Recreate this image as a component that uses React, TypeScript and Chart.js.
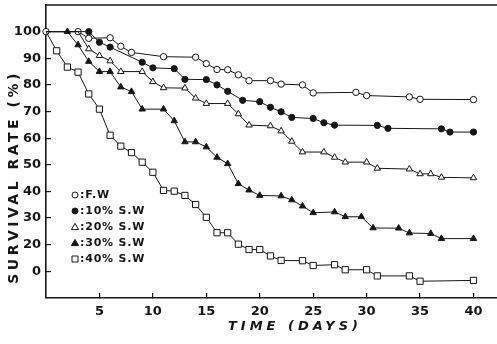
import React, { useEffect, useRef } from 'react';
import { Chart, registerables } from 'chart.js';

Chart.register(...registerables);

// ---- data ----
const X_TICKS = [5, 10, 15, 20, 25, 30, 35, 40];
const Y_TICKS = [10, 20, 30, 40, 50, 60, 70, 80, 90, 100];
const X_TITLE = 'TIME (DAYS)';
const Y_TITLE = 'SURVIVAL RATE (%)';

const daysFW = [0, 3, 4, 6, 7, 8, 11, 14, 15, 16, 17, 18, 19, 21, 22, 24, 25, 29, 30, 34, 35, 40];
const rateFW = [100, 100, 97.5, 97.7, 94.5, 92.2, 90.6, 90.4, 88, 85.8, 85.7, 83.8, 81.6, 81.6, 80.3, 80, 77, 77.2, 76, 75.5, 74.6, 74.5];

const days10 = [0, 4, 5, 6, 9, 10, 12, 13, 15, 16, 17, 18.4, 20, 21, 22, 23, 25, 26, 27, 31, 32, 37, 37.8, 40];
const rate10 = [100, 100, 96, 94.2, 88.5, 86.4, 86.1, 82.1, 82, 80, 77.6, 74.2, 73.7, 71.6, 69.9, 67.8, 67.4, 65.8, 64.9, 64.8, 63.7, 63.5, 62.3, 62.3];

const days20 = [0, 3, 4, 5, 6, 7, 9, 10, 11, 13, 14, 15, 17, 18, 19, 21, 22, 23, 24, 26, 27, 28, 30, 31, 34, 35, 36, 37, 40];
const rate20 = [100, 100, 93.5, 91, 89, 85, 85, 81.2, 78.9, 78.8, 75, 73, 73, 69.1, 64.9, 64.6, 62.7, 58.8, 54.8, 54.8, 52.8, 51, 51, 48.7, 48.4, 46.6, 46.6, 45.3, 45.1];

const days30 = [0, 2, 3, 4, 5, 6, 7, 8, 9, 11, 12, 13, 14, 15, 16, 17, 18, 19, 20, 22, 23, 24, 25, 27, 28, 29.5, 30.6, 33, 34, 36, 37, 40];
const rate30 = [100, 100, 95, 88.8, 85, 85, 79.2, 77.5, 70.9, 70.9, 66.5, 58.6, 58.6, 56.7, 52.8, 50.4, 42.9, 40.5, 38.5, 38.3, 36.8, 34.5, 32, 32.3, 30.5, 30.5, 26.3, 26.2, 24.4, 24.2, 22.3, 22.3];

const days40 = [0, 1, 2, 3, 4, 5, 6, 7, 8, 9, 10, 11, 12, 13, 14, 15, 16, 17, 18, 19, 20, 21, 22, 24, 25, 27, 28, 30, 31, 34, 35, 40];
const rate40 = [100, 92.8, 86.7, 84.8, 76.6, 70.9, 61.1, 57, 54.6, 51, 47.2, 40.4, 40.1, 38.5, 35.1, 30.3, 24.5, 24.5, 20.2, 18.2, 18.2, 15.8, 14.1, 14, 12.2, 12.5, 10.6, 10.6, 8.3, 8.3, 6.3, 6.6];

const LABELS = ['F.W', '10% S.W', '20% S.W', '30% S.W', '40% S.W'];

// ---- styling ----
const INK = '#161616';
const FONT = '"DejaVu Sans", sans-serif';

type Marker = { style: string; fill: string; r: number; hideFirst: number[] };
const MARKERS: Marker[] = [
  { style: 'circle', fill: '#ffffff', r: 3.2, hideFirst: [] },
  { style: 'circle', fill: INK, r: 3.1, hideFirst: [0] },
  { style: 'triangle', fill: '#ffffff', r: 3.7, hideFirst: [0, 1] },
  { style: 'triangle', fill: INK, r: 3.7, hideFirst: [0] },
  { style: 'rect', fill: '#ffffff', r: 4.4, hideFirst: [0] },
];

const SERIES = [
  [daysFW, rateFW],
  [days10, rate10],
  [days20, rate20],
  [days30, rate30],
  [days40, rate40],
];

function drawSymbol(ctx: CanvasRenderingContext2D, m: Marker, x: number, y: number) {
  ctx.beginPath();
  if (m.style === 'circle') {
    ctx.arc(x, y, 3, 0, Math.PI * 2);
  } else if (m.style === 'triangle') {
    ctx.moveTo(x, y - 3.6);
    ctx.lineTo(x + 3.6, y + 2.6);
    ctx.lineTo(x - 3.6, y + 2.6);
    ctx.closePath();
  } else {
    ctx.rect(x - 3, y - 3, 6, 6);
  }
  ctx.fillStyle = m.fill;
  ctx.fill();
  ctx.lineWidth = 1;
  ctx.strokeStyle = INK;
  ctx.stroke();
}

const decor = {
  id: 'decor',
  afterDraw(chart: any) {
    const ctx: CanvasRenderingContext2D = chart.ctx;
    const a = chart.chartArea;
    ctx.save();
    // top frame line
    ctx.strokeStyle = INK;
    ctx.lineWidth = 1.5;
    ctx.beginPath();
    ctx.moveTo(a.left, a.top);
    ctx.lineTo(a.right, a.top);
    ctx.stroke();

    ctx.fillStyle = INK;
    // y title
    ctx.save();
    (ctx as any).letterSpacing = '3.5px';
    ctx.font = `bold 14px ${FONT}`;
    ctx.translate(14, 177);
    ctx.rotate(-Math.PI / 2);
    ctx.textAlign = 'center';
    ctx.textBaseline = 'middle';
    ctx.fillText(Y_TITLE, 0, 0);
    ctx.restore();

    // x title
    ctx.save();
    (ctx as any).letterSpacing = '4px';
    ctx.font = `italic bold 13px ${FONT}`;
    ctx.textAlign = 'center';
    ctx.textBaseline = 'middle';
    ctx.fillText(X_TITLE, 295, 327);
    ctx.restore();

    // legend
    ctx.save();
    ctx.font = `bold 11px ${FONT}`;
    (ctx as any).letterSpacing = '0.8px';
    ctx.textAlign = 'left';
    ctx.textBaseline = 'middle';
    LABELS.forEach((lab, i) => {
      const y = 195 + i * 16;
      drawSymbol(ctx, MARKERS[i], 75, y);
      ctx.fillStyle = INK;
      ctx.fillText(':' + lab, 80, y + 0.5);
    });
    ctx.restore();

    ctx.restore();
  },
};

export default function App() {
  const ref = useRef<HTMLCanvasElement>(null);
  useEffect(() => {
    document.body.style.margin = '0';
    const datasets = SERIES.map(([xs, ys], i) => {
      const m = MARKERS[i];
      return {
        label: LABELS[i],
        data: xs.map((x, j) => ({ x, y: ys[j] })),
        borderColor: INK,
        borderWidth: 1,
        pointStyle: m.style,
        pointBackgroundColor: m.fill,
        pointBorderColor: INK,
        pointBorderWidth: 1,
        pointRadius: xs.map((_, j) => (m.hideFirst.includes(j) ? 0 : m.r)),
        pointHoverRadius: 0,
        tension: 0,
        fill: false,
        clip: false as any,
      };
    }).reverse();

    const zeroPad = (s: any) => {
      s.paddingTop = 0;
      s.paddingBottom = 0;
      s.paddingLeft = 0;
      s.paddingRight = 0;
    };

    const chart = new Chart(ref.current as HTMLCanvasElement, {
      type: 'line',
      data: { datasets: datasets as any },
      options: {
        responsive: false,
        animation: false,
        events: [],
        layout: { autoPadding: false, padding: { top: 5, left: 0, right: 0, bottom: 0 } },
        plugins: { legend: { display: false }, tooltip: { enabled: false }, title: { display: false } },
        scales: {
          x: {
            type: 'linear',
            min: 0,
            max: 42.2,
            afterBuildTicks: (s: any) => { s.ticks = X_TICKS.map((v) => ({ value: v })); },
            afterFit: (s: any) => { s.height = 46; zeroPad(s); },
            ticks: {
              color: INK,
              font: { family: FONT, size: 13, weight: 'bold' },
              padding: 11,
              maxRotation: 0,
              autoSkip: false,
              callback: (v: any) => String(v),
            },
            grid: { drawOnChartArea: false, tickLength: -5, color: INK, lineWidth: 1.2 },
            border: { color: INK, width: 1.6 },
          },
          y: {
            type: 'linear',
            min: 0,
            max: 110,
            afterBuildTicks: (s: any) => { s.ticks = Y_TICKS.map((v) => ({ value: v })); },
            afterFit: (s: any) => { s.width = 46; zeroPad(s); },
            ticks: {
              color: INK,
              font: { family: FONT, size: 13, weight: 'bold' },
              padding: 10,
              autoSkip: false,
              callback: (v: any) => (v === 10 ? '0' : String(v)),
            },
            grid: { drawOnChartArea: false, tickLength: -5, color: INK, lineWidth: 1.2 },
            border: { color: INK, width: 1.6 },
          },
        },
      },
      plugins: [decor],
    });
    return () => chart.destroy();
  }, []);
  return (
    <div style={{ width: 497, height: 344 }}>
      <canvas ref={ref} width={497} height={344} style={{ display: 'block' }} />
    </div>
  );
}
